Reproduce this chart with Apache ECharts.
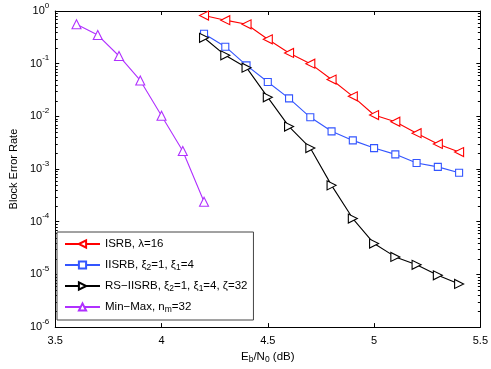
<!DOCTYPE html>
<html>
<head>
<meta charset="utf-8">
<script src="https://cdn.jsdelivr.net/npm/echarts@6/dist/echarts.min.js"></script>
<style>
html,body{margin:0;padding:0;background:#fff;}
#c{width:491px;height:369px;}
</style>
</head>
<body>
<div id="c"></div>
<script>
// ---- data ----
const xISRB = [4.2,4.3,4.4,4.5,4.6,4.7,4.8,4.9,5.0,5.1,5.2,5.3,5.4];
const yISRB = [0.82,0.67,0.56,0.29,0.16,0.10,0.050,0.024,0.0106,0.0079,0.0048,0.0030,0.0021];
const xIISRB = [4.2,4.3,4.4,4.5,4.6,4.7,4.8,4.9,5.0,5.1,5.2,5.3,5.4];
const yIISRB = [0.37,0.21,0.093,0.045,0.022,0.0096,0.0052,0.0035,0.0025,0.0019,0.0013,0.0011,0.00085];
const xRS = [4.2,4.3,4.4,4.5,4.6,4.7,4.8,4.9,5.0,5.1,5.2,5.3,5.4];
const yRS = [0.31,0.144,0.084,0.023,0.0064,0.0025,0.00049,0.000115,0.0000385,0.0000215,0.0000152,0.0000096,0.0000066];
const xMM = [3.6,3.7,3.8,3.9,4.0,4.1,4.2];
const yMM = [0.56,0.35,0.14,0.048,0.0103,0.0022,0.00024];
const seriesNames = ['ISRB', 'IISRB', 'RS-IISRB', 'Min-Max'];
const legendLabels = {
  'ISRB': 'ISRB, λ=16',
  'IISRB': 'IISRB, ξ{sub|2}=1, ξ{sub|1}=4',
  'RS-IISRB': 'RS−IISRB, ξ{sub|2}=1, ξ{sub|1}=4, ζ=32',
  'Min-Max': 'Min−Max, n{sub|m}=32'
};
const xTicks = [3.5, 4, 4.5, 5, 5.5];

function pairs(xs, ys){ return xs.map((x,i)=>[x, ys[i]]); }

const FONT = 'Liberation Sans, Arial, Helvetica, sans-serif';
const chart = echarts.init(document.getElementById('c'), null, {renderer:'canvas'});

const supRich = {
  a:{fontSize:11, fontFamily:FONT, color:'#000', lineHeight:19},
  b:{fontSize:8, fontFamily:FONT, color:'#000', verticalAlign:'top', lineHeight:10}
};

const mk = (name, xs, ys, color, symbol, rot, size) => ({
  name, type:'line', data: pairs(xs, ys),
  symbol, symbolSize:size, symbolRotate:rot,
  lineStyle:{color, width:1.1},
  itemStyle:{color:'#fff', borderColor:color, borderWidth:1.1},
  emphasis:{disabled:true},
  animation:false, z:3
});

const option = {
  animation:false,
  backgroundColor:'#fff',
  grid:{left:45, right:8, top:11, bottom:39, containLabel:false},
  xAxis:[{
    type:'value', min:3.5, max:5.5, interval:0.5,
    axisLine:{lineStyle:{color:'#000', width:1}},
    axisTick:{inside:true, length:4, lineStyle:{color:'#000'}},
    axisLabel:{color:'#000', fontSize:11, fontFamily:FONT, margin:8,
      formatter: v => String(v)},
    splitLine:{show:false},
    name:'{a|E}{s|b}{a|/N}{s|0}{a| (dB)}', nameLocation:'middle', nameGap:21,
    nameTextStyle:{rich:{
      a:{fontSize:11.5, fontFamily:FONT, color:'#000', lineHeight:14},
      s:{fontSize:8.5, fontFamily:FONT, color:'#000', verticalAlign:'bottom', lineHeight:10}
    }}
  },{
    type:'value', min:3.5, max:5.5, interval:0.5, position:'top',
    axisLine:{lineStyle:{color:'#000', width:1}},
    axisTick:{inside:true, length:4, lineStyle:{color:'#000'}},
    axisLabel:{show:false}, splitLine:{show:false}
  }],
  yAxis:[{
    type:'log', logBase:10, min:1e-6, max:1,
    axisLine:{show:true, lineStyle:{color:'#000', width:1}},
    axisTick:{show:true, inside:true, length:4, lineStyle:{color:'#000'}},
    axisLabel:{margin:6, formatter: v => '{a|10}{b|' + Math.round(Math.log10(v)) + '}', rich:supRich},
    splitLine:{show:false},
    name:'Block Error Rate', nameLocation:'middle', nameGap:32,
    nameTextStyle:{fontSize:11, fontFamily:FONT, color:'#000'}
  },{
    type:'log', logBase:10, min:1e-6, max:1, position:'right',
    axisLine:{show:true, lineStyle:{color:'#000', width:1}},
    axisTick:{show:true, inside:true, length:4, lineStyle:{color:'#000'}},
    axisLabel:{show:false}, splitLine:{show:false}
  }],
  legend:{
    orient:'vertical', left:57, top:232,
    data: seriesNames,
    itemWidth:35, itemHeight:9, itemGap:7,
    padding:[5,6,6,7],
    borderColor:'#444', borderWidth:1, backgroundColor:'#fff',
    formatter: n => legendLabels[n],
    textStyle:{fontSize:11.5, fontFamily:FONT, color:'#000', lineHeight:14,
      rich:{sub:{fontSize:8.5, fontFamily:FONT, color:'#000', verticalAlign:'bottom', lineHeight:10}}},
    selectedMode:false
  },
  series:[
    mk('ISRB', xISRB, yISRB, '#ff0000', 'triangle', 90, 9),
    mk('IISRB', xIISRB, yIISRB, '#3355ff', 'rect', 0, 7),
    mk('RS-IISRB', xRS, yRS, '#000000', 'triangle', -90, 9),
    mk('Min-Max', xMM, yMM, '#b030ff', 'triangle', 0, 9)
  ]
};
chart.setOption(option);

// minor log ticks (2..9 per decade) on left and right axes, positioned via the axis scale
const g = [];
const left = chart.convertToPixel({xAxisIndex:0}, 3.5);
const right = chart.convertToPixel({xAxisIndex:0}, 5.5);
for (let e = -6; e < 0; e++) {
  for (let m = 2; m <= 9; m++) {
    const y = Math.round(chart.convertToPixel({yAxisIndex:0}, m * Math.pow(10, e))) + 0.5;
    g.push({type:'line', shape:{x1:left, y1:y, x2:left+2.5, y2:y}, style:{stroke:'#000', lineWidth:1}, silent:true, z:1});
    g.push({type:'line', shape:{x1:right-2.5, y1:y, x2:right, y2:y}, style:{stroke:'#000', lineWidth:1}, silent:true, z:1});
  }
}
chart.setOption({graphic:g});
</script>
</body>
</html>
